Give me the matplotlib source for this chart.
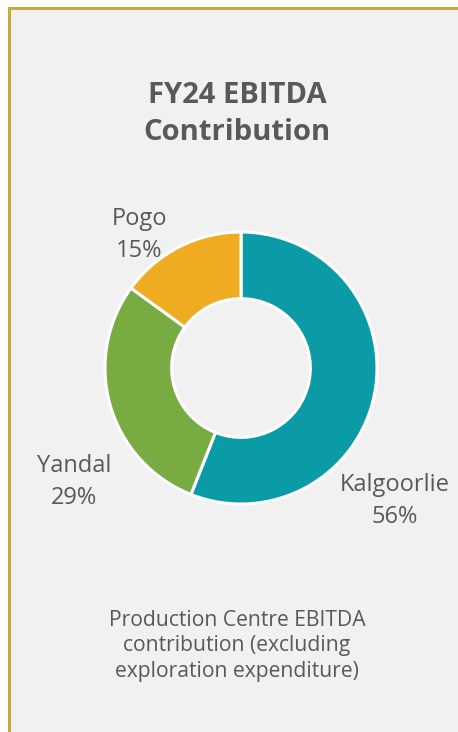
#!/usr/bin/env python3

import matplotlib
matplotlib.use('Agg')
import matplotlib.pyplot as plt
from matplotlib.patches import Rectangle

W, H = 458, 732

centres = ['Kalgoorlie', 'Yandal', 'Pogo']
share = [56, 29, 15]
colours = ['#0a9ba7', '#78ac43', '#efac22']

title = ['FY24 EBITDA', 'Contribution']
note = ['Production Centre EBITDA', 'contribution (excluding',
        'exploration expenditure)']

# label anchor points (pixels, centre x / baseline of first line)
label_xy = {'Kalgoorlie': (395, 491), 'Yandal': (74, 472), 'Pogo': (139, 225)}

plt.rcParams['font.family'] = ['Open Sans', 'DejaVu Sans']
grey = '#595959'


def fx(x):
    return x / W


def fy(y):
    return 1 - y / H


fig = plt.figure(figsize=(W / 100, H / 100), dpi=100)
fig.patch.set_facecolor('white')

# panel with gold left/top rule (behind everything)
fig.patches.append(Rectangle((fx(8), 0), 1, fy(7), transform=fig.transFigure,
                             facecolor='#f1f1f1', edgecolor='none', zorder=-2))
fig.patches.append(Rectangle((fx(8), 0), 3 / W, fy(7), transform=fig.transFigure,
                             facecolor='#c9a93a', edgecolor='none', zorder=-1))
fig.patches.append(Rectangle((fx(8), fy(10)), 1, 3 / H, transform=fig.transFigure,
                             facecolor='#c9a93a', edgecolor='none', zorder=-1))

# donut
cx, cy, r = 241, 368, 136
ax = fig.add_axes([fx(cx - r), fy(cy + r), 2 * r / W, 2 * r / H])
ax.patch.set_visible(False)
ax.pie(share, colors=colours, startangle=90, counterclock=False, radius=1,
       wedgeprops=dict(width=0.49, edgecolor='white', linewidth=2.2))
ax.set_xlim(-1, 1)
ax.set_ylim(-1, 1)
ax.set_aspect('auto')
ax.axis('off')

for i, line in enumerate(title):
    fig.text(fx(237), fy(103 + 37 * i), line, ha='center', va='baseline',
             fontsize=21, fontweight='bold', color=grey)

for name, pct in zip(centres, share):
    x, y = label_xy[name]
    fig.text(fx(x), fy(y), name, ha='center', va='baseline', fontsize=17, color=grey)
    fig.text(fx(x), fy(y + 32), f'{pct}%', ha='center', va='baseline',
             fontsize=17, color=grey)

for i, line in enumerate(note):
    fig.text(fx(237), fy(626 + 25.5 * i), line, ha='center', va='baseline',
             fontsize=15.2, color=grey)

fig.savefig('out.png', dpi=100, facecolor=fig.get_facecolor())
